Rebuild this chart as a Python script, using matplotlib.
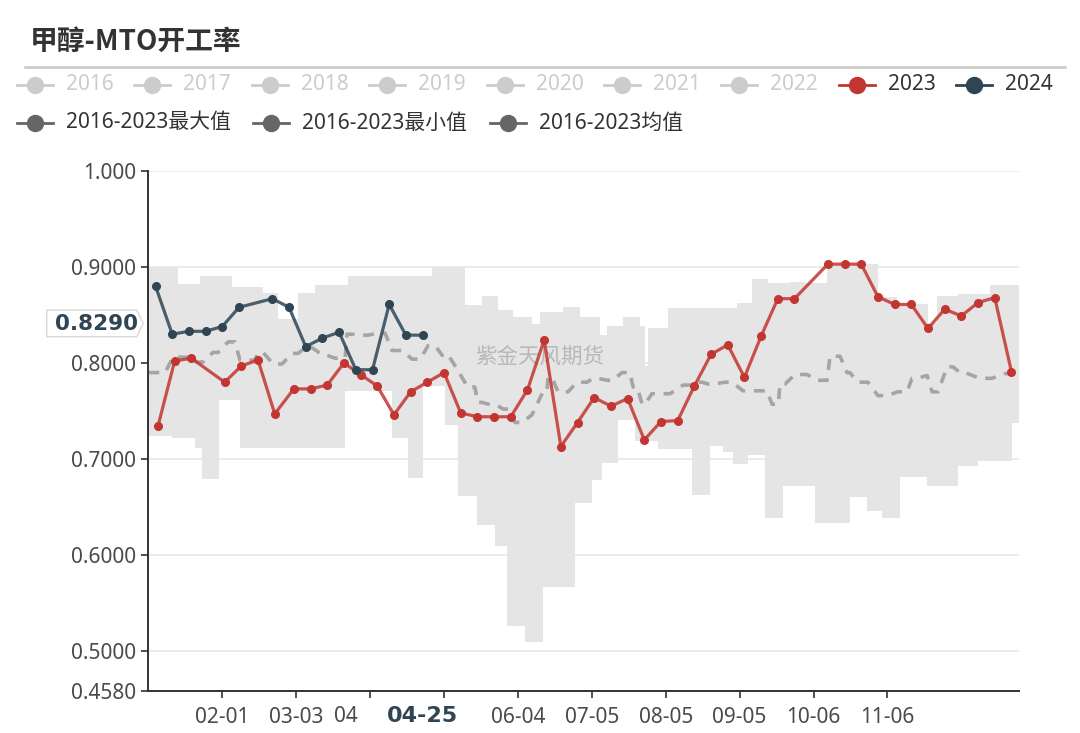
import numpy as np
import matplotlib
matplotlib.use("Agg")
import matplotlib.pyplot as plt
import matplotlib.transforms as mtransforms
import pandas as pd
from matplotlib.lines import Line2D
from matplotlib.patches import Polygon

plt.rcParams['font.family'] = ['Noto Sans', 'Noto Sans CJK SC', 'DejaVu Sans']

# ---- data ----
dates_2023 = ["01-05", "01-12", "01-19", "02-02", "02-09", "02-16", "02-23", "03-02", "03-09", "03-16",
              "03-23", "03-30", "04-06", "04-13", "04-20", "04-27", "05-04", "05-11", "05-18", "05-25",
              "06-01", "06-08", "06-15", "06-22", "06-29", "07-06", "07-13", "07-20", "07-27", "08-03",
              "08-10", "08-17", "08-24", "08-31", "09-07", "09-14", "09-21", "09-28", "10-12", "10-19",
              "10-26", "11-02", "11-09", "11-16", "11-23", "11-30", "12-07", "12-14", "12-21", "12-28"]
rate_2023 = [0.734, 0.802, 0.805, 0.780, 0.797, 0.803, 0.747, 0.773, 0.773, 0.777,
             0.800, 0.788, 0.776, 0.746, 0.770, 0.780, 0.790, 0.748, 0.744, 0.744,
             0.744, 0.772, 0.824, 0.713, 0.738, 0.764, 0.755, 0.763, 0.720, 0.739,
             0.740, 0.776, 0.809, 0.819, 0.785, 0.828, 0.867, 0.867, 0.903, 0.903,
             0.903, 0.869, 0.861, 0.861, 0.836, 0.856, 0.849, 0.863, 0.868, 0.791]

dates_2024 = ["01-04", "01-11", "01-18", "01-25", "02-01", "02-08", "02-22", "02-29",
              "03-07", "03-14", "03-21", "03-28", "04-04", "04-11", "04-18", "04-25"]
rate_2024 = [0.880, 0.830, 0.833, 0.833, 0.838, 0.858, 0.867, 0.858,
             0.817, 0.826, 0.832, 0.793, 0.793, 0.861, 0.829, 0.829]

# 2016-2023 max / min envelope, (start day of year, value) steps
max_steps = [(0, 0.900), (12.4, 0.882), (21.6, 0.891), (35.1, 0.879), (48.1, 0.873), (54.4, 0.846),
             (62.8, 0.873), (69.9, 0.881), (83.7, 0.891), (119, 0.900), (132.8, 0.860), (139.8, 0.870),
             (146.8, 0.855), (153.1, 0.848), (160.8, 0.841), (164.3, 0.853), (174, 0.858), (181, 0.848),
             (189.4, 0.829), (192.2, 0.839), (199.2, 0.848), (206.2, 0.839), (208.3, 0.797), (209.6, 0.836),
             (218, 0.857), (246.8, 0.862), (253, 0.887), (260, 0.883), (269.1, 0.884), (275.4, 0.883),
             (284.5, 0.9034), (306.2, 0.869), (313.9, 0.861), (327, 0.842), (330.7, 0.870), (339.7, 0.872),
             (353, 0.881)]
min_steps = [(0, 0.724), (9.9, 0.722), (19.5, 0.711), (22.5, 0.679), (29.6, 0.761), (38.4, 0.711),
             (82.5, 0.771), (102.2, 0.722), (108.9, 0.680), (115.2, 0.776), (124.4, 0.735), (130, 0.661),
             (137.7, 0.631), (145.4, 0.609), (150.3, 0.526), (158, 0.509), (165.6, 0.567), (178.9, 0.654),
             (186, 0.678), (190.2, 0.696), (197.1, 0.741), (204.1, 0.719), (213.9, 0.710), (228, 0.662),
             (235.6, 0.714), (241.1, 0.707), (245.3, 0.695), (251.6, 0.704), (258.6, 0.639), (266.3, 0.672),
             (279.6, 0.633), (294.3, 0.660), (301.3, 0.646), (307.6, 0.639), (315.3, 0.681), (326.5, 0.672),
             (339.7, 0.693), (348.1, 0.698), (362.1, 0.737)]
# 2016-2023 mean
mean_pts = [(0, 0.790), (7, 0.790), (10.3, 0.806), (19.5, 0.806), (20, 0.801), (22.9, 0.801), (27.1, 0.811),
            (29.2, 0.811), (33.4, 0.822), (36.3, 0.822), (38.4, 0.803), (44.7, 0.803), (46, 0.811),
            (48.1, 0.811), (52.3, 0.799), (56.1, 0.799), (60.2, 0.810), (62.8, 0.810), (65.7, 0.816),
            (68.6, 0.816), (73.2, 0.808), (74.9, 0.808), (78.3, 0.805), (82.5, 0.805), (83.3, 0.830),
            (85.4, 0.830), (89.6, 0.829), (92.1, 0.829), (96.3, 0.831), (99.3, 0.831), (102.2, 0.813),
            (106.4, 0.813), (110.6, 0.804), (114, 0.804), (117.3, 0.818), (120.3, 0.818), (123.2, 0.808),
            (125.3, 0.810), (129.4, 0.794), (133.9, 0.775), (136.9, 0.775), (138.2, 0.759), (139.9, 0.759),
            (144.1, 0.756), (146.2, 0.756), (148.8, 0.752), (150.9, 0.752), (153.8, 0.738), (156.7, 0.738),
            (160.9, 0.746), (165.5, 0.770), (167.2, 0.770), (167.6, 0.785), (169.3, 0.785), (171.8, 0.770),
            (176, 0.770), (179.8, 0.780), (184, 0.780), (186.5, 0.784), (188.6, 0.784), (192.4, 0.782),
            (194.9, 0.782), (198.6, 0.790), (202, 0.790), (203.3, 0.775), (205, 0.775), (207.1, 0.757),
            (208.3, 0.757), (211.2, 0.768), (218.8, 0.768), (224.3, 0.777), (228, 0.777), (229.3, 0.780),
            (232.3, 0.780), (234.8, 0.778), (236.9, 0.778), (241.9, 0.780), (244.8, 0.780), (249.4, 0.771),
            (259.5, 0.771), (261.6, 0.757), (264.2, 0.757), (264.9, 0.778), (267, 0.778), (271.2, 0.788),
            (276.3, 0.788), (280.5, 0.782), (284.7, 0.782), (285.9, 0.807), (290.1, 0.807), (293, 0.790),
            (294.2, 0.790), (297.6, 0.780), (301.8, 0.780), (306, 0.766), (309.8, 0.766), (314.4, 0.770),
            (318.2, 0.770), (320.3, 0.784), (322.4, 0.784), (326.6, 0.787), (328.7, 0.770), (331.2, 0.770),
            (335, 0.796), (337.5, 0.796), (340.4, 0.790), (342.5, 0.790), (348.8, 0.784), (353.8, 0.784),
            (359.3, 0.789), (365, 0.789)]

tick_dates = ["02-01", "03-03", "04-03", "05-04", "06-04", "07-05", "08-05", "09-05", "10-06", "11-06"]
# labels partly hidden behind the 04-25 pointer label in the original
tick_text = ["02-01", "03-03", "", "", "06-04", "07-05", "08-05", "09-05", "10-06", "11-06"]
y_ticks = [1.0, 0.9, 0.8, 0.7, 0.6, 0.5, 0.458]
y_labels = ["1.000", "0.9000", "0.8000", "0.7000", "0.6000", "0.5000", "0.4580"]

legend_years = ["2016", "2017", "2018", "2019", "2020", "2021", "2022", "2023", "2024"]
legend_stats = ["2016-2023最大值", "2016-2023最小值", "2016-2023均值"]

RED = "#c23531"
NAVY = "#2f4554"


def doy(mmdd):
    # position on a leap-year calendar, day 0 = 01-01
    return (pd.to_datetime(["2024-" + d for d in mmdd]).dayofyear - 1).to_numpy()


def steps(pts, end=365):
    xs, ys = [], []
    starts = [p[0] for p in pts]
    ends = starts[1:] + [end]
    for (d0, v), d1 in zip(pts, ends):
        xs += [d0, d1]
        ys += [v, v]
    return np.array(xs), np.array(ys)


W, H = 1080, 733
def fx(px): return px / W
def fy(py): return 1 - py / H


fig = plt.figure(figsize=(W / 100, H / 100), dpi=100)
ax = fig.add_axes([fx(148.4), fy(691.3), (1018.6 - 148.4) / W, (691.3 - 171) / H])

# envelope band
ux, uy = steps(max_steps)
lx, ly = steps(min_steps)
ax.fill(np.r_[ux, lx[::-1]], np.r_[uy, ly[::-1]], color="#e5e5e5", lw=0, zorder=1)

md, mv = zip(*mean_pts)
ax.plot(md, mv, color="#a5a5a5", lw=2.6, ls=(0, (3.0, 2.4)), zorder=2)

ax.text(0.45, 0.643, "紫金天风期货", transform=ax.transAxes, fontsize=15.5, color="#b0b0b0",
        alpha=0.85, ha="center", va="center", family=['Noto Sans CJK SC'], zorder=2.5)

ax.plot(doy(dates_2023), rate_2023, color=RED, lw=2.3, alpha=0.85, zorder=3)
ax.plot(doy(dates_2023), rate_2023, 'o', color=RED, ms=5.5, zorder=4)
ax.plot(doy(dates_2024), rate_2024, color=NAVY, lw=2.3, alpha=0.85, zorder=5)
ax.plot(doy(dates_2024), rate_2024, 'o', color=NAVY, ms=5.5, zorder=6)

ax.set_xlim(0, 365)
ax.set_ylim(0.458, 1.0)
ax.set_yticks(y_ticks)
ax.set_yticklabels(y_labels)
ax.set_xticks(doy(tick_dates))
ax.set_xticklabels(tick_text)
for v in y_ticks[:-1]:
    ax.axhline(v, color="#e6e6e6", lw=1.2, zorder=0)
for s in ["top", "right"]:
    ax.spines[s].set_visible(False)
for s in ["left", "bottom"]:
    ax.spines[s].set_color("#333333")
    ax.spines[s].set_linewidth(1.4)
ax.tick_params(axis="y", length=5, width=1.2, color="#333333", pad=4, labelsize=15, labelcolor="#4a4a4a")
ax.tick_params(axis="x", length=5, width=1.2, color="#333333", pad=6, labelsize=15, labelcolor="#4a4a4a")

# visible stub of the 04-03 label, the rest sits under the pointer label
stub = mtransforms.offset_copy(ax.get_xaxis_transform(), fig=fig, x=-12, y=0, units="dots")
ax.text(doy(["04-03"])[0], -0.048, "04", transform=stub, fontsize=15, color="#4a4a4a",
        ha="right", va="center", clip_on=False)

# axis pointer labels
x_last = doy(dates_2024)[-1]
ax.text(x_last, -0.048, dates_2024[-1], transform=ax.get_xaxis_transform(), fontsize=16,
        fontweight="bold", color=NAVY, ha="center", va="center", family=["DejaVu Sans"], clip_on=False)
fig.patches.append(Polygon([(fx(46.7), fy(310)), (fx(136.7), fy(310)), (fx(143.3), fy(323.3)),
                            (fx(136.7), fy(336.7)), (fx(46.7), fy(336.7))], closed=True,
                           transform=fig.transFigure, facecolor="white", edgecolor="#d8d8d8", lw=1, zorder=5))
fig.text(fx(96), fy(323.5), f"{rate_2024[-1]:.4f}", fontsize=15.5, fontweight="bold", color=NAVY,
         ha="center", va="center", family=["DejaVu Sans"], zorder=6)

# title
fig.text(fx(30), fy(42), "甲醇-MTO开工率", fontsize=20, fontweight="bold", color="#333333",
         ha="left", va="center", family=["Noto Sans CJK SC"])
fig.add_artist(Line2D([fx(25), fx(1065)], [fy(67), fy(67)], color="#c8c8c8", lw=1.8))


# legend
def legend_item(cx, cy, label, icon, txt):
    fig.add_artist(Line2D([fx(cx - 18), fx(cx + 18)], [fy(cy), fy(cy)], color=icon, lw=2))
    fig.add_artist(Line2D([fx(cx)], [fy(cy)], marker="o", ms=11.5, color=icon, lw=0))
    fig.text(fx(cx + 31), fy(cy), label, fontsize=15, color=txt, ha="left", va="center")


for i, lab in enumerate(legend_years):
    if lab == "2023":
        legend_item(35 + 117.4 * i, 85, lab, RED, "#333333")
    elif lab == "2024":
        legend_item(35 + 117.4 * i, 85, lab, NAVY, "#333333")
    else:
        legend_item(35 + 117.4 * i, 85, lab, "#cccccc", "#cccccc")
for cx, lab in zip([35, 271, 508], legend_stats):
    legend_item(cx, 123, lab, "#666666", "#333333")

fig.savefig("out.png", dpi=100)
